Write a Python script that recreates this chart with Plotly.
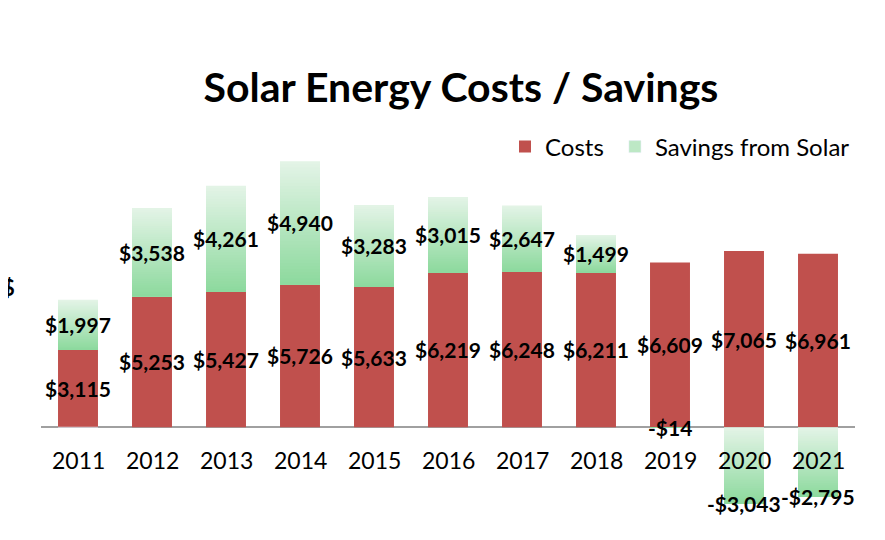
import plotly.graph_objects as go

years = ["2011", "2012", "2013", "2014", "2015", "2016", "2017", "2018", "2019", "2020", "2021"]
costs = [3115, 5253, 5427, 5726, 5633, 6219, 6248, 6211, 6609, 7065, 6961]
savings = [1997, 3538, 4261, 4940, 3283, 3015, 2647, 1499, -14, -3043, -2795]

RED = "#C0504D"
TOP = (0xE4, 0xF4, 0xE7)
BOT = (0x8C, 0xD9, 0x9D)
FONT = "Lato"
N = 40

# the page body adds an 8px offset; the figure is sized/margined to compensate
W, H = 877, 532

def fmt(v):
    return ("-$" if v < 0 else "$") + f"{abs(v):,}"

fig = go.Figure()
fig.add_trace(go.Bar(x=years, y=costs, base=[0]*len(years), name="Costs\u00a0",
                     marker=dict(color=RED, line=dict(width=0)), width=0.54))

tops = [c + s if s > 0 else 0 for c, s in zip(costs, savings)]
hs = [abs(s) for s in savings]
for i in range(N):
    t = (i + 0.5) / N
    col = "rgb(%d,%d,%d)" % tuple(round(TOP[k] + (BOT[k] - TOP[k]) * t) for k in range(3))
    fig.add_trace(go.Bar(
        x=years,
        y=[h * (1 - i / N) for h in hs],
        base=[tp - h for tp, h in zip(tops, hs)],
        marker=dict(color=col, line=dict(width=0)), width=0.54,
        showlegend=False, hoverinfo="skip"))

# legend entry for savings
fig.add_trace(go.Bar(x=[years[0]], y=[0], name="Savings from Solar",
                     marker=dict(color="#BDE8C5"), width=0.54))

lab_font = dict(family=FONT, size=21, color="black", weight="bold")
ann = []
for idx, (yr, c, s) in enumerate(zip(years, costs, savings)):
    ann.append(dict(x=idx, y=c / 2, text=fmt(c), showarrow=False, font=lab_font))
    sy = c + s / 2 if s > 0 else s
    ann.append(dict(x=idx, y=sy, text=fmt(s), showarrow=False, font=lab_font))
    ann.append(dict(x=idx, y=0, text=yr, showarrow=False, yshift=-33,
                    font=dict(family=FONT, size=23, color="black")))
ann.append(dict(xref="paper", yref="paper", x=0, xanchor="center", xshift=-33, y=0.62,
                text="$", showarrow=False,
                font=dict(family=FONT, size=22, color="black", weight="bold")))

fig.update_layout(
    width=W, height=H,
    paper_bgcolor="white", plot_bgcolor="white",
    barmode="overlay",
    margin=dict(l=33, r=30, t=132, b=13, autoexpand=False),
    title=dict(text="<b>Solar Energy Costs / Savings</b>", x=453 / W, xanchor="center",
               y=1 - 80 / H, yanchor="middle",
               font=dict(family=FONT, size=41, color="black")),
    legend=dict(orientation="h", xref="paper", x=1.0, xanchor="right", y=1 - (139 - 132) / 387,
                yanchor="middle", font=dict(family=FONT, size=24, color="black"),
                bgcolor="rgba(0,0,0,0)", itemwidth=30, traceorder="normal"),
    xaxis=dict(type="category", range=[-0.5, 10.5], showticklabels=False, showgrid=False,
               showline=False, ticks=""),
    yaxis=dict(range=[-4000, 11520], showticklabels=False, showgrid=False, zeroline=True,
               zerolinecolor="#A0A0A0", zerolinewidth=2, showline=False, ticks=""),
    annotations=ann,
    showlegend=True,
)
fig.write_html("out.html")
